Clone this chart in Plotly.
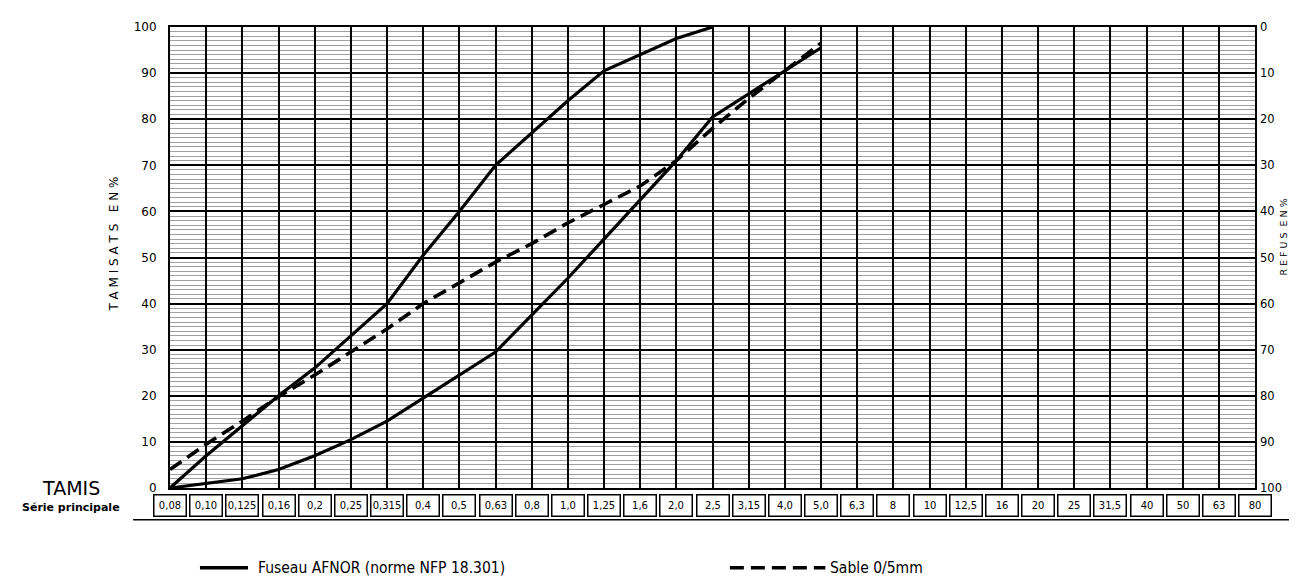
import plotly.graph_objects as go

# Sieve openings (mm), série principale
sieves = ["0,08", "0,10", "0,125", "0,16", "0,2", "0,25", "0,315", "0,4", "0,5", "0,63",
          "0,8", "1,0", "1,25", "1,6", "2,0", "2,5", "3,15", "4,0", "5,0", "6,3",
          "8", "10", "12,5", "16", "20", "25", "31,5", "40", "50", "63", "80"]

# Fuseau AFNOR (norme NFP 18.301) - upper and lower limits, % passing
afnor_upper = [0, 7, 13.5, 20, 26, 33, 40, 50.5, 60, 70, 77, 84, 90.5, 94, 97.5, 100]
afnor_lower = [0, 1, 2, 4, 7, 10.5, 14.5, 19.5, 24.5, 29.5, 37.5, 45.5, 54, 62.5, 71,
               80.5, 85.5, 90.5, 95.5]
# Sable 0/5mm, % passing
sable = [4, 9.5, 14.5, 19.8, 24.5, 29.5, 34.5, 40, 44.5, 49, 53, 57.5, 61.5, 65.5, 71,
         78, 84.5, 90.5, 96.5]

y_ticks = list(range(0, 101, 10))

fig = go.Figure()

fig.add_trace(go.Scatter(x=sieves[:len(afnor_upper)], y=afnor_upper, mode="lines",
                         line=dict(color="black", width=3.2), name="Fuseau AFNOR (norme NFP 18.301)",
                         legendgroup="afnor", showlegend=False))
fig.add_trace(go.Scatter(x=sieves[:len(afnor_lower)], y=afnor_lower, mode="lines",
                         line=dict(color="black", width=3.2), name="Fuseau AFNOR (norme NFP 18.301)",
                         legendgroup="afnor", showlegend=False))
fig.add_trace(go.Scatter(x=sieves[:len(sable)], y=sable, mode="lines",
                         line=dict(color="black", width=3.6, dash="14px,7px"), name="Sable 0/5mm",
                         showlegend=False))
# invisible trace to activate right axis
fig.add_trace(go.Scatter(x=[sieves[0]], y=[0], yaxis="y2", mode="markers",
                         marker=dict(opacity=0), showlegend=False, hoverinfo="skip"))

# the page body adds an 8px margin, so the figure is sized to fit inside the window
fig.update_layout(
    width=1289, height=576,
    margin=dict(l=162, r=42, t=17, b=96),
    paper_bgcolor="white", plot_bgcolor="white",
    font=dict(family="DejaVu Sans", color="black"),
    xaxis=dict(type="category", categoryorder="array", categoryarray=sieves,
               range=[0, len(sieves) - 1], showgrid=True, gridcolor="black", gridwidth=2,
               showticklabels=False, ticks="", zeroline=False,
               showline=True, linecolor="black", linewidth=2, mirror=True),
    yaxis=dict(range=[0, 100], tickvals=y_ticks, ticks="", showgrid=True,
               gridcolor="black", gridwidth=2, zeroline=False,
               showline=True, linecolor="black", linewidth=2, mirror=True,
               tickfont=dict(size=12, family="DejaVu Sans", color="black"),
               ticklabelstandoff=9,
               minor=dict(dtick=1, showgrid=True, gridcolor="#a0a0a0", gridwidth=1)),
    yaxis2=dict(range=[100, 0], tickvals=y_ticks, overlaying="y", side="right",
                showgrid=False, ticks="", zeroline=False, showline=False,
                tickfont=dict(size=11.5, family="DejaVu Sans", color="black"),
                ticklabelstandoff=4),
)

annotations = []
for i, s in enumerate(sieves):
    annotations.append(dict(x=i, xref="x", y=-0.038, yref="paper", text=s,
                            showarrow=False, xanchor="center", yanchor="middle",
                            width=29, height=18, borderpad=1, borderwidth=1.5,
                            bordercolor="black", font=dict(size=10, color="black")))

annotations += [
    dict(x=-0.06, y=0.53, xref="paper", yref="paper", text="T A M I S A T S   E N %",
         textangle=-90, showarrow=False, font=dict(size=12, color="black")),
    dict(x=1.0335, y=0.545, xref="paper", yref="paper", text="R E F U S  E N %",
         textangle=-90, showarrow=False, font=dict(size=9.5, color="black")),
    dict(x=-0.091, y=0.0, xref="paper", yref="paper", text="TAMIS",
         showarrow=False, xanchor="center", yanchor="middle",
         font=dict(size=19, color="black")),
    dict(x=-0.091, y=-0.043, xref="paper", yref="paper", text="<b>Série principale</b>",
         showarrow=False, xanchor="center", yanchor="middle",
         font=dict(size=11, color="black")),
    dict(x=0.0793, y=-0.173, xref="paper", yref="paper",
         text="Fuseau AFNOR (norme NFP 18.301)", showarrow=False,
         xanchor="left", yanchor="middle",
         font=dict(size=15.5, family="DejaVu Sans Condensed, DejaVu Sans", color="black")),
    dict(x=0.6065, y=-0.173, xref="paper", yref="paper",
         text="Sable 0/5mm", showarrow=False, xanchor="left", yanchor="middle",
         font=dict(size=15.5, family="DejaVu Sans Condensed, DejaVu Sans", color="black")),
]
fig.update_layout(annotations=annotations)

fig.update_layout(shapes=[
    dict(type="line", xref="paper", yref="paper", x0=-0.034, x1=1.05, y0=-0.069, y1=-0.069,
         line=dict(color="black", width=1.5)),
    dict(type="line", xref="paper", yref="paper", x0=0.0276, x1=0.0719, y0=-0.173, y1=-0.173,
         line=dict(color="black", width=3.5)),
    dict(type="line", xref="paper", yref="paper", x0=0.516, x1=0.604, y0=-0.173, y1=-0.173,
         line=dict(color="black", width=3.5, dash="14px,7px")),
])

fig.write_html("out.html")
